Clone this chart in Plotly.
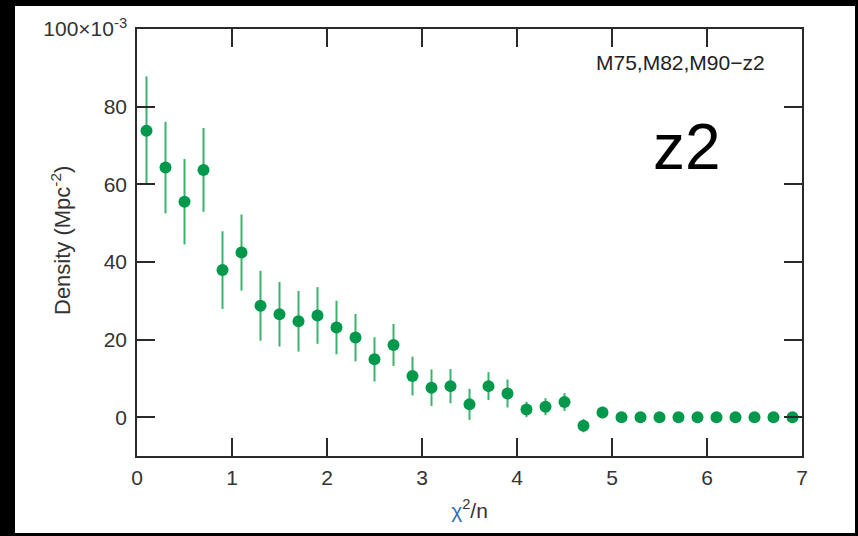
import plotly.graph_objects as go

# chi^2/n bin centres
x_vals = [0.1, 0.3, 0.5, 0.7, 0.9, 1.1, 1.3, 1.5, 1.7, 1.9,
          2.1, 2.3, 2.5, 2.7, 2.9, 3.1, 3.3, 3.5, 3.7, 3.9,
          4.1, 4.3, 4.5, 4.7, 4.9, 5.1, 5.3, 5.5, 5.7, 5.9,
          6.1, 6.3, 6.5, 6.7, 6.9]
# density (Mpc^-2)
density = [0.0738, 0.0643, 0.0555, 0.0637, 0.0379, 0.0424, 0.0287, 0.0265, 0.0247, 0.0262,
           0.0231, 0.0205, 0.0149, 0.0186, 0.0106, 0.0076, 0.0080, 0.0033, 0.0080, 0.0061,
           0.0020, 0.0027, 0.0039, -0.0022, 0.0012, 0.0, 0.0, 0.0, 0.0, 0.0,
           0.0, 0.0, 0.0, 0.0, 0.0]
density_err = [0.0140, 0.0118, 0.0110, 0.0108, 0.0100, 0.0098, 0.0090, 0.0083, 0.0078, 0.0073,
               0.0069, 0.0061, 0.0057, 0.0054, 0.0050, 0.0047, 0.0044, 0.0040, 0.0036, 0.0036,
               0.0020, 0.0022, 0.0023, 0.0017, 0.0015, 0.0, 0.0, 0.0, 0.0, 0.0,
               0.0, 0.0, 0.0, 0.0, 0.0]

x_tickvals = [0, 1, 2, 3, 4, 5, 6, 7]
x_ticktext = ["0", "1", "2", "3", "4", "5", "6", "7"]
y_tickvals = [0, 0.02, 0.04, 0.06, 0.08, 0.10]
y_ticktext = ["0", "20", "40", "60", "80", "100×10<sup>-3</sup>"]

label_text = "M75,M82,M90−z2"
big_text = "z2"
y_title = "Density (Mpc<sup>-2</sup>)"
x_title = "<span style='color:#2f6fb8'>χ</span><sup>2</sup>/n"

W, H = 858, 536
L, R, T, B = 137, 56, 29, 80
pw, ph = W - L - R, H - T - B

def px_x(p):
    return (p - L) / pw

def px_y(p):
    return (H - B - p) / ph

FONT = "Liberation Sans, Arial, sans-serif"
AX = "#2a2a2a"

fig = go.Figure()
fig.add_trace(go.Scatter(
    x=x_vals, y=density, mode="markers",
    marker=dict(color="#00994c", size=12, symbol="circle", line=dict(width=0)),
    error_y=dict(type="data", array=density_err, visible=True,
                 color="#3ab36e", thickness=2, width=0),
    showlegend=False,
))

axis_common = dict(
    automargin=False,
    showline=True, linecolor=AX, linewidth=1.5, mirror="allticks",
    ticks="inside", ticklen=18, tickwidth=1.5, tickcolor=AX,
    showgrid=False, zeroline=False,
    tickfont=dict(family=FONT, size=21, color="#333"),
)

fig.update_xaxes(range=[0, 7], tickmode="array", tickvals=x_tickvals, ticktext=x_ticktext,
                 ticklabelstandoff=2,
                 title=dict(text=x_title, font=dict(family=FONT, size=21, color="#333"), standoff=15),
                 **axis_common)
fig.update_yaxes(range=[-0.01, 0.10], tickmode="array", tickvals=y_tickvals, ticktext=y_ticktext,
                 ticklabelstandoff=4,
                 **axis_common)

fig.add_annotation(text=y_title, xref="paper", yref="paper", x=px_x(61), y=px_y(241),
                   textangle=-90, showarrow=False, xanchor="center", yanchor="middle",
                   font=dict(family=FONT, size=22, color="#333"))
fig.add_annotation(text=label_text, xref="paper", yref="paper", x=px_x(680), y=px_y(63),
                   showarrow=False, xanchor="center", yanchor="middle",
                   font=dict(family=FONT, size=21, color="#222"))
fig.add_annotation(text=big_text, xref="paper", yref="paper", x=px_x(687), y=px_y(147),
                   showarrow=False, xanchor="center", yanchor="middle",
                   font=dict(family=FONT, size=64, color="#000"))

# white page area on black surround
fig.add_shape(type="rect", xref="paper", yref="paper", layer="below",
              x0=px_x(15), x1=px_x(855), y0=px_y(533), y1=px_y(6),
              fillcolor="white", line=dict(width=0))

fig.update_layout(
    template="none",
    width=W, height=H,
    margin=dict(l=L, r=R, t=T, b=B, autoexpand=False),
    paper_bgcolor="black", plot_bgcolor="white",
    font=dict(family=FONT, color="#333"),
)

fig.write_html("out.html",
               config={"displayModeBar": False},
               post_script="document.body.style.margin='0';document.body.style.overflow='hidden';")
